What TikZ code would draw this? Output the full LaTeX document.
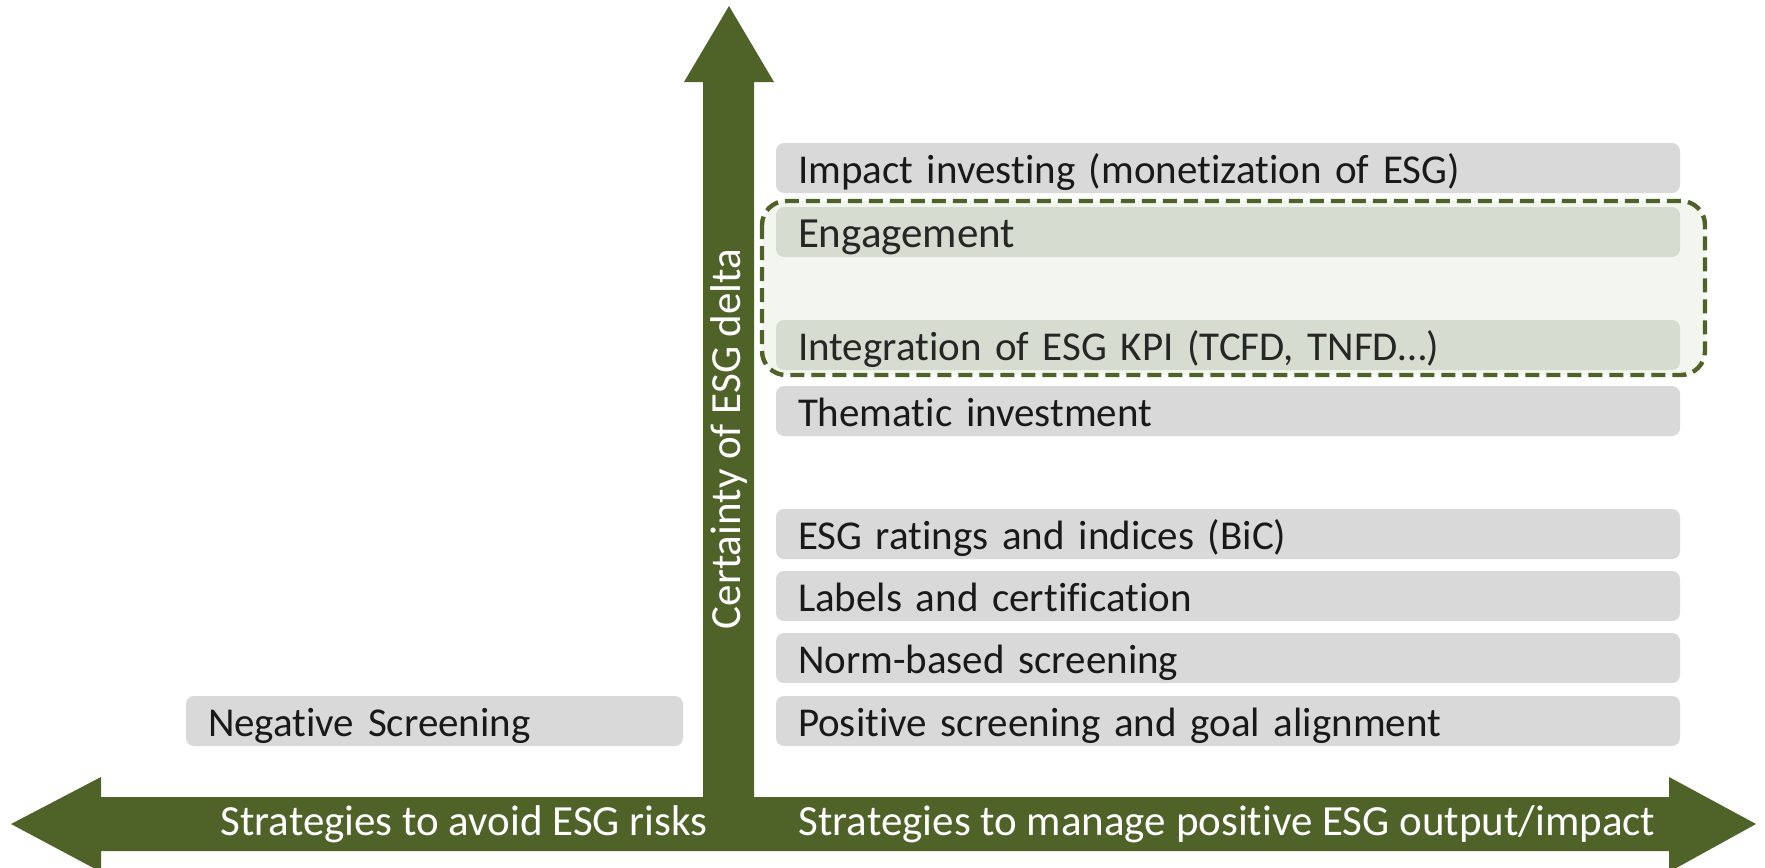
\documentclass[tikz,border=0pt]{standalone}
\usepackage{fontspec}
\setmainfont{Carlito}[Ligatures=NoCommon]
\usepackage{xcolor}
\usepackage{tikz}
\definecolor{esggreen}{HTML}{4F6228}
\definecolor{boxgrey}{HTML}{D9D9D9}
\definecolor{boxmix}{HTML}{D7DCD1}
\definecolor{focusfill}{HTML}{F3F6EE}

\begin{document}
\begin{tikzpicture}[x=0.5pt, y=-0.5pt,
    strat/.style={fill=boxgrey, rounded corners=4pt, inner xsep=11pt, inner ysep=0pt,
        minimum height=25pt, text height=18pt, text depth=3pt, text width=430pt, align=left,
        font=\fontsize{20.5}{22}\selectfont, text=black!90},
    focus/.style={strat, fill=boxmix, text=black!85},
    axislabel/.style={text=white, font=\fontsize{21.5}{23}\selectfont, inner sep=0pt}]
    \useasboundingbox (0,0) rectangle (1765,867);

    % axes
    \fill[esggreen] (11,824) -- (101,777) -- (101,797) -- (1669,797) -- (1669,777)
        -- (1756,824) -- (1669,872) -- (1669,851) -- (101,851) -- (101,872) -- cycle;
    \fill[esggreen] (703,824) -- (703,82) -- (684,82) -- (729,6) -- (774,82) -- (754,82) -- (754,824) -- cycle;
    \node[axislabel] (risks) at (464,824) {Strategies to avoid ESG risks};
    \node[axislabel] (impact) at (1227,824) {Strategies to manage positive ESG output/impact};
    \node[axislabel, rotate=90] (certainty) at (729,439) {Certainty of ESG delta};

    % highlighted area
    \draw[esggreen, line width=2.2pt, dash pattern=on 7pt off 3.5pt, fill=focusfill, rounded corners=12pt]
        (762,201) rectangle (1705,375);

    % strategies
    \node[strat] (impinv) at (1228,168) {Impact investing (monetization of ESG)};
    \node[focus] (engage) at (1228,232) {\fontsize{21.5}{23}\selectfont Engagement};
    \node[focus] (integ) at (1228,345) {Integration of ESG KPI (TCFD, TNFD\dots)};
    \node[strat] (thematic) at (1228,411) {Thematic investment};
    \node[strat] (ratings) at (1228,534) {ESG ratings and indices (BiC)};
    \node[strat] (labels) at (1228,596) {Labels and certification};
    \node[strat] (norm) at (1228,658) {Norm-based screening};
    \node[strat] (positive) at (1228,721) {Positive screening and goal alignment};
    \node[strat, text width=226.5pt] (negative) at (434.5,721) {Negative Screening};
\end{tikzpicture}
\end{document}
